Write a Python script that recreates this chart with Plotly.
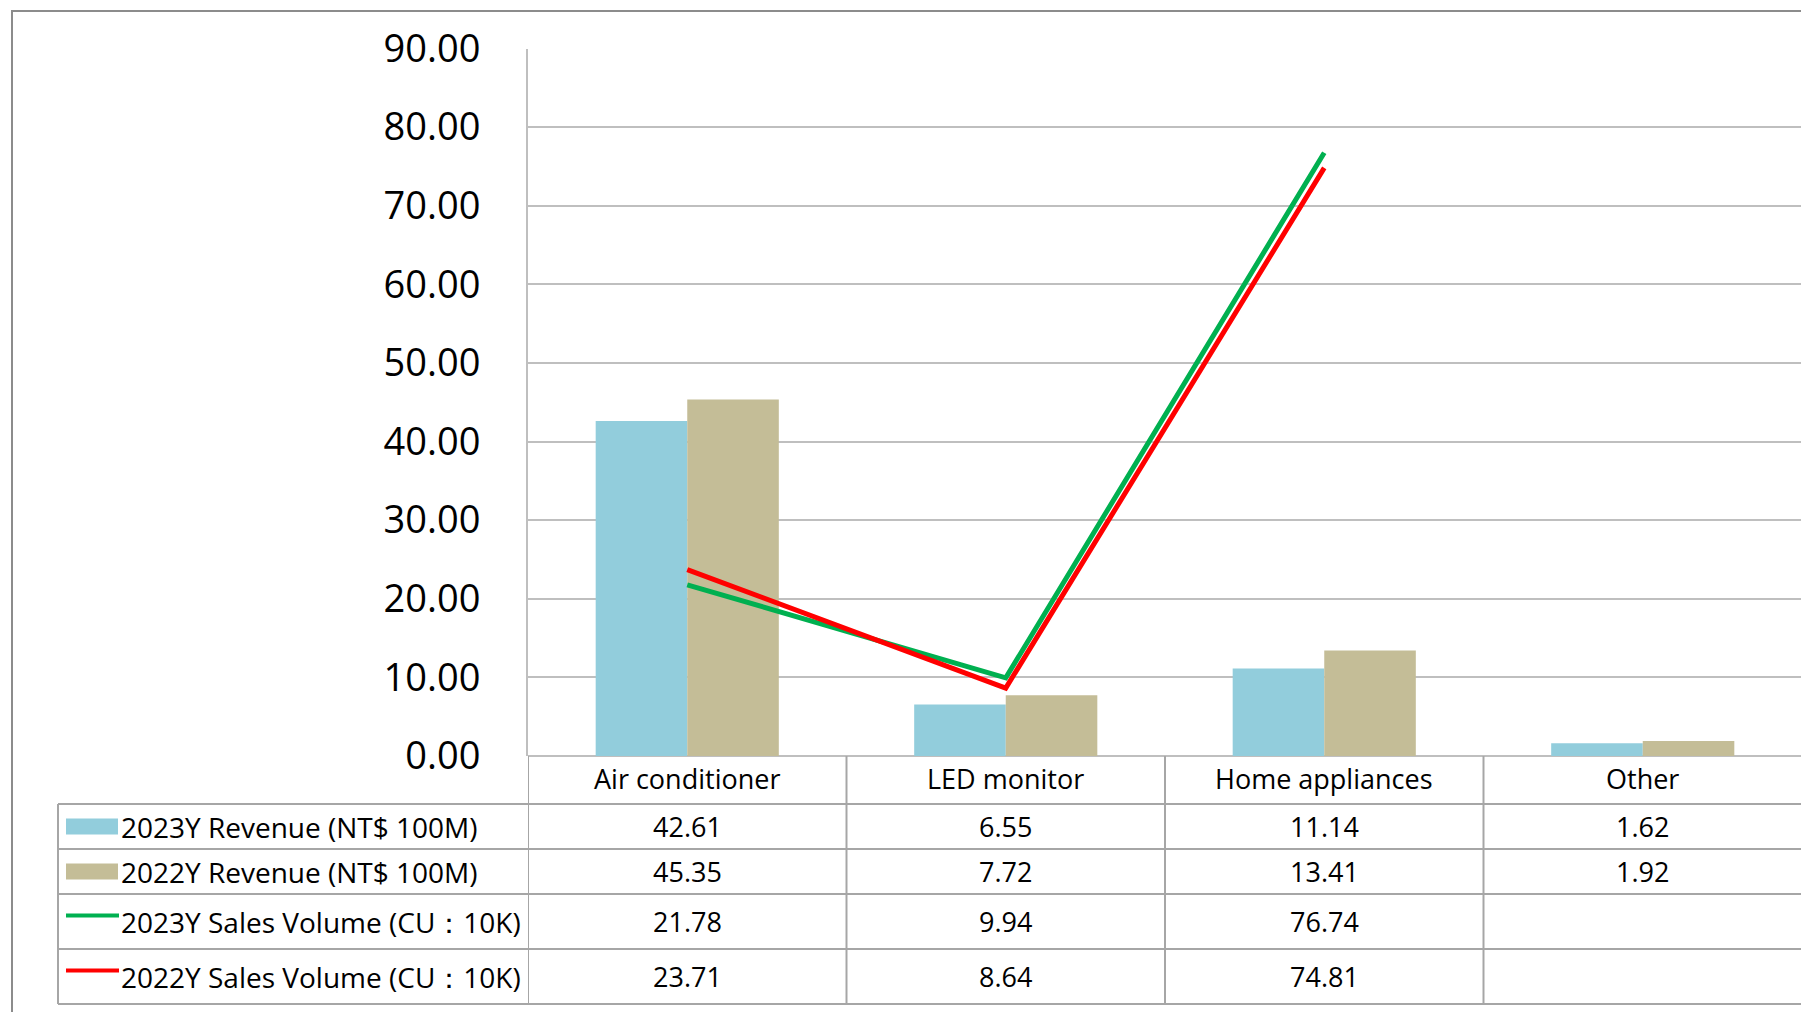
import plotly.graph_objects as go

# ---------------- data ----------------
categories = ["Air conditioner", "LED monitor", "Home appliances", "Other"]
rev_2023 = [42.61, 6.55, 11.14, 1.62]
rev_2022 = [45.35, 7.72, 13.41, 1.92]
vol_2023 = [21.78, 9.94, 76.74, None]
vol_2022 = [23.71, 8.64, 74.81, None]
series_names = [
    "2023Y Revenue (NT$ 100M)",
    "2022Y Revenue (NT$ 100M)",
    "2023Y Sales Volume (CU：10K)",
    "2022Y Sales Volume (CU：10K)",
]
y_ticks = [0, 10, 20, 30, 40, 50, 60, 70, 80, 90]

# ---------------- styling ----------------
OX, OY = 8, 8            # page body margin offset
W, H = 1801, 1004
FONT = "Open Sans"
C_BLUE = "#92CDDC"
C_TAN = "#C4BD97"
C_GREEN = "#00B050"
C_RED = "#FF0000"
GRID = "#BFBFBF"
TABLE_LINE = "#A6A6A6"


def px(x):
    return (x - OX) / W


def py(y):
    return 1 - (y - OY) / H


plot_left, plot_right, plot_top, plot_bottom = 528, 1802, 48.5, 756
table_left = 58
row_edges = [756, 804, 849, 894, 949, 1004]

fig = go.Figure()
fig.add_trace(go.Bar(x=categories, y=rev_2023, name=series_names[0], marker_color=C_BLUE,
                     marker_line_width=0))
fig.add_trace(go.Bar(x=categories, y=rev_2022, name=series_names[1], marker_color=C_TAN,
                     marker_line_width=0))
fig.add_trace(go.Scatter(x=categories, y=vol_2023, name=series_names[2], mode="lines",
                         line=dict(color=C_GREEN, width=5), connectgaps=False))
fig.add_trace(go.Scatter(x=categories, y=vol_2022, name=series_names[3], mode="lines",
                         line=dict(color=C_RED, width=5), connectgaps=False))

shapes = []
annotations = []

# outer frame
shapes.append(dict(type="rect", xref="paper", yref="paper", x0=px(12), x1=1.05,
                   y0=py(11), y1=-0.05, line=dict(color="#8C8C8C", width=2),
                   fillcolor="rgba(0,0,0,0)", layer="below"))

# table horizontal lines
for i, ye in enumerate(row_edges):
    if i == 0:
        continue
    shapes.append(dict(type="line", xref="paper", yref="paper", x0=px(table_left), x1=px(plot_right),
                       y0=py(ye), y1=py(ye), line=dict(color=TABLE_LINE, width=2)))
# table vertical lines at category boundaries
for k in range(len(categories) + 1):
    shapes.append(dict(type="line", xref="x", yref="paper", x0=k - 0.5, x1=k - 0.5,
                       y0=py(row_edges[0]), y1=py(row_edges[-1]), line=dict(color=TABLE_LINE, width=2)))
# legend column left edge
shapes.append(dict(type="line", xref="paper", yref="paper", x0=px(table_left), x1=px(table_left),
                   y0=py(row_edges[1]), y1=py(row_edges[-1]), line=dict(color=TABLE_LINE, width=2)))

TXT = dict(family=FONT, size=27, color="#000")
LEG = dict(family=FONT, size=28, color="#000")

# header row: category names
hdr_c = (row_edges[0] + row_edges[1]) / 2
for i, c in enumerate(categories):
    annotations.append(dict(x=i, y=py(hdr_c - 2), xref="x", yref="paper", text=c, showarrow=False,
                            xanchor="center", yanchor="middle", font=TXT))

rows = [rev_2023, rev_2022, vol_2023, vol_2022]
kinds = ["bar", "bar", "line", "line"]
colors = [C_BLUE, C_TAN, C_GREEN, C_RED]
for r, vals in enumerate(rows):
    yc = (row_edges[r + 1] + row_edges[r + 2]) / 2
    for i, v in enumerate(vals):
        if v is None:
            continue
        annotations.append(dict(x=i, y=py(yc), xref="x", yref="paper", text=f"{v:.2f}",
                                showarrow=False, xanchor="center", yanchor="middle", font=TXT))
    # legend key
    if kinds[r] == "bar":
        shapes.append(dict(type="rect", xref="paper", yref="paper", x0=px(66), x1=px(118),
                           y0=py(yc - 8), y1=py(yc + 8), fillcolor=colors[r],
                           line=dict(width=0)))
    else:
        shapes.append(dict(type="line", xref="paper", yref="paper", x0=px(66), x1=px(119),
                           y0=py(yc - 6), y1=py(yc - 6), line=dict(color=colors[r], width=4)))
    annotations.append(dict(x=px(119), y=py(yc), xref="paper", yref="paper", text=series_names[r],
                            showarrow=False, xanchor="left", yanchor="middle", font=LEG))

fig.update_layout(
    width=W, height=H,
    margin=dict(l=0, r=0, t=0, b=0, pad=0, autoexpand=False),
    paper_bgcolor="white", plot_bgcolor="white",
    barmode="group", bargap=0.425, bargroupgap=0,
    showlegend=False,
    xaxis=dict(domain=[px(plot_left), px(plot_right)], range=[-0.5, 3.5],
               showticklabels=False, showgrid=False, zeroline=False,
               showline=False, ticks="", automargin=False),
    yaxis=dict(domain=[py(plot_bottom), py(plot_top)], range=[0, 90],
               tickvals=y_ticks, tickformat=".2f",
               tickfont=dict(family=FONT, size=38, color="#000"),
               showgrid=True, gridcolor=GRID, gridwidth=2,
               zeroline=True, zerolinecolor=GRID, zerolinewidth=2,
               showline=True, linecolor=GRID, linewidth=2,
               ticks="", ticklabelstandoff=38, automargin=False),
    shapes=shapes,
    annotations=annotations,
)

fig.write_html("out.html")
